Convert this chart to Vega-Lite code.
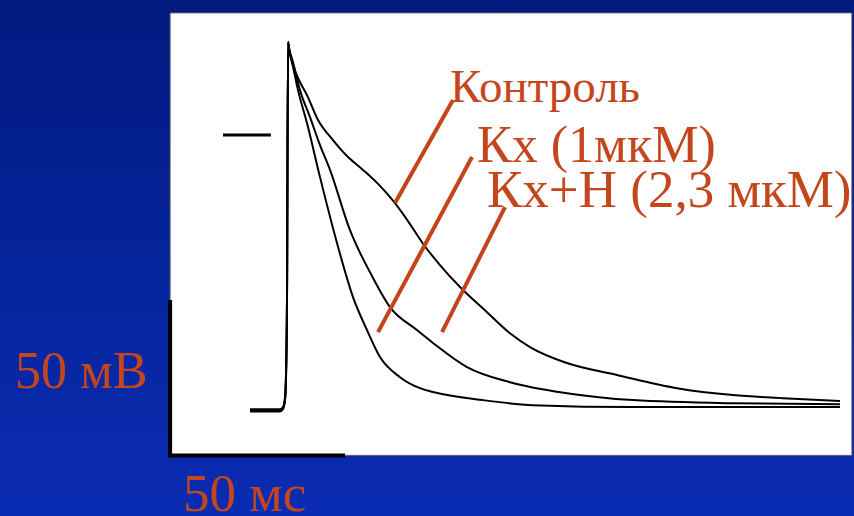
{
  "$schema": "https://vega.github.io/schema/vega-lite/v6.json",
  "width": 854,
  "height": 516,
  "autosize": {"type": "none"},
  "padding": 0,
  "background": "#0a2196",
  "config": {"view": {"stroke": null}, "axis": {"disable": true}},
  "datasets": {
    "one": [{"k": 1}],
    "traces": [
      {"trace": "A", "i": 1, "t": -10.57, "v": -88.0},
      {"trace": "A", "i": 2, "t": -2.0, "v": -88.0},
      {"trace": "A", "i": 3, "t": -1.14, "v": -87.3},
      {"trace": "A", "i": 4, "t": -0.57, "v": -84.4},
      {"trace": "A", "i": 5, "t": -0.29, "v": -78.0},
      {"trace": "A", "i": 6, "t": 0.0, "v": -52.5},
      {"trace": "A", "i": 7, "t": 0.29, "v": 29.6},
      {"trace": "A", "i": 8, "t": 0.57, "v": 27.1},
      {"trace": "A", "i": 9, "t": 1.43, "v": 23.2},
      {"trace": "A", "i": 10, "t": 3.14, "v": 14.3},
      {"trace": "A", "i": 11, "t": 5.71, "v": 3.8},
      {"trace": "A", "i": 12, "t": 9.43, "v": -13.4},
      {"trace": "A", "i": 13, "t": 14.29, "v": -34.4},
      {"trace": "A", "i": 14, "t": 18.86, "v": -51.6},
      {"trace": "A", "i": 15, "t": 22.86, "v": -62.1},
      {"trace": "A", "i": 16, "t": 26.57, "v": -70.7},
      {"trace": "A", "i": 17, "t": 32.29, "v": -77.1},
      {"trace": "A", "i": 18, "t": 38.0, "v": -80.6},
      {"trace": "A", "i": 19, "t": 41.71, "v": -81.8},
      {"trace": "A", "i": 20, "t": 56.0, "v": -84.4},
      {"trace": "A", "i": 21, "t": 70.29, "v": -86.0},
      {"trace": "A", "i": 22, "t": 98.86, "v": -86.6},
      {"trace": "A", "i": 23, "t": 158.0, "v": -86.6},

      {"trace": "B", "i": 1, "t": -10.57, "v": -87.6},
      {"trace": "B", "i": 2, "t": -2.0, "v": -87.6},
      {"trace": "B", "i": 3, "t": -1.14, "v": -86.9},
      {"trace": "B", "i": 4, "t": -0.57, "v": -84.0},
      {"trace": "B", "i": 5, "t": -0.29, "v": -77.0},
      {"trace": "B", "i": 6, "t": 0.0, "v": -52.0},
      {"trace": "B", "i": 7, "t": 0.29, "v": 29.6},
      {"trace": "B", "i": 8, "t": 0.57, "v": 27.7},
      {"trace": "B", "i": 9, "t": 1.71, "v": 23.2},
      {"trace": "B", "i": 10, "t": 3.71, "v": 14.3},
      {"trace": "B", "i": 11, "t": 6.57, "v": 5.7},
      {"trace": "B", "i": 12, "t": 9.43, "v": -3.2},
      {"trace": "B", "i": 13, "t": 12.29, "v": -11.1},
      {"trace": "B", "i": 14, "t": 18.0, "v": -30.3},
      {"trace": "B", "i": 15, "t": 24.29, "v": -44.9},
      {"trace": "B", "i": 16, "t": 29.43, "v": -54.8},
      {"trace": "B", "i": 17, "t": 37.14, "v": -62.1},
      {"trace": "B", "i": 18, "t": 41.71, "v": -66.2},
      {"trace": "B", "i": 19, "t": 51.43, "v": -73.9},
      {"trace": "B", "i": 20, "t": 63.71, "v": -78.7},
      {"trace": "B", "i": 21, "t": 80.0, "v": -82.2},
      {"trace": "B", "i": 22, "t": 98.86, "v": -84.4},
      {"trace": "B", "i": 23, "t": 127.43, "v": -85.4},
      {"trace": "B", "i": 24, "t": 158.0, "v": -85.7},

      {"trace": "C", "i": 1, "t": -10.57, "v": -87.3},
      {"trace": "C", "i": 2, "t": -2.0, "v": -87.3},
      {"trace": "C", "i": 3, "t": -1.14, "v": -86.6},
      {"trace": "C", "i": 4, "t": -0.57, "v": -83.5},
      {"trace": "C", "i": 5, "t": -0.29, "v": -76.0},
      {"trace": "C", "i": 6, "t": 0.0, "v": -51.5},
      {"trace": "C", "i": 7, "t": 0.29, "v": 29.6},
      {"trace": "C", "i": 8, "t": 0.57, "v": 27.7},
      {"trace": "C", "i": 9, "t": 1.71, "v": 22.3},
      {"trace": "C", "i": 10, "t": 3.71, "v": 16.9},
      {"trace": "C", "i": 11, "t": 5.71, "v": 12.7},
      {"trace": "C", "i": 12, "t": 8.86, "v": 4.8},
      {"trace": "C", "i": 13, "t": 13.14, "v": -1.6},
      {"trace": "C", "i": 14, "t": 17.43, "v": -7.0},
      {"trace": "C", "i": 15, "t": 21.71, "v": -11.1},
      {"trace": "C", "i": 16, "t": 26.57, "v": -16.2},
      {"trace": "C", "i": 17, "t": 30.29, "v": -20.9},
      {"trace": "C", "i": 18, "t": 34.57, "v": -27.4},
      {"trace": "C", "i": 19, "t": 38.86, "v": -34.6},
      {"trace": "C", "i": 20, "t": 43.71, "v": -41.4},
      {"trace": "C", "i": 21, "t": 49.43, "v": -48.4},
      {"trace": "C", "i": 22, "t": 57.14, "v": -56.4},
      {"trace": "C", "i": 23, "t": 63.71, "v": -63.1},
      {"trace": "C", "i": 24, "t": 69.43, "v": -67.5},
      {"trace": "C", "i": 25, "t": 80.0, "v": -72.6},
      {"trace": "C", "i": 26, "t": 94.29, "v": -76.4},
      {"trace": "C", "i": 27, "t": 111.43, "v": -80.6},
      {"trace": "C", "i": 28, "t": 127.43, "v": -82.8},
      {"trace": "C", "i": 29, "t": 141.71, "v": -83.8},
      {"trace": "C", "i": 30, "t": 158.0, "v": -84.7}
    ],
    "pointers": [
      {"name": "Контроль", "t": 47.43, "v": 11.15, "t2": 30.86, "v2": -21.66},
      {"name": "Кх", "t": 52.86, "v": -7.01, "t2": 26.0, "v2": -62.74},
      {"name": "Кх+Н", "t": 62.29, "v": -22.93, "t2": 44.29, "v2": -62.74}
    ],
    "bars": [
      {"name": "50 мВ", "t": -33.4, "v": -52.5, "t2": -33.4, "v2": -102.5, "w": 4},
      {"name": "50 мс", "t": -33.9, "v": -102.0, "t2": 16.6, "v2": -102.0, "w": 4},
      {"name": "0 мВ", "t": -18.3, "v": 0, "t2": -4.6, "v2": 0, "w": 3}
    ],
    "labels": [
      {"text": "Контроль", "t": 46.57, "v": 10.5, "size": 47},
      {"text": "Кх (1мкМ)", "t": 54.29, "v": -8.6, "size": 52},
      {"text": "Кх+Н (2,3 мкМ)", "t": 57.14, "v": -22.9, "size": 53},
      {"text": "50 мВ", "t": -77.7, "v": -80.6, "size": 52},
      {"text": "50 мс", "t": -29.7, "v": -119.8, "size": 53}
    ]
  },
  "layer": [
    {
      "data": {"name": "one"},
      "mark": {"type": "rect", "color": {"gradient": "linear", "x1": 0, "y1": 0, "x2": 0, "y2": 1, "stops": [{"offset": 0, "color": "#011a80"}, {"offset": 1, "color": "#0a2cb3"}]}},
      "encoding": {
        "x": {"datum": -82, "type": "quantitative", "scale": {"domain": [-82, 162], "nice": false, "zero": false}},
        "x2": {"datum": 162},
        "y": {"datum": -121.3, "type": "quantitative", "scale": {"domain": [-121.3, 43.0], "nice": false, "zero": false}},
        "y2": {"datum": 43.0}
      }
    },
    {
      "data": {"name": "one"},
      "mark": {"type": "rect", "fill": "#ffffff", "stroke": "#5a5a6a", "strokeWidth": 1},
      "encoding": {
        "x": {"datum": -33.4, "type": "quantitative"},
        "x2": {"datum": 161.4},
        "y": {"datum": 38.9, "type": "quantitative"},
        "y2": {"datum": -102.0}
      }
    },
    {
      "data": {"name": "traces"},
      "mark": {"type": "line", "color": "#000000", "strokeWidth": 2, "interpolate": "monotone"},
      "encoding": {
        "x": {"field": "t", "type": "quantitative"},
        "y": {"field": "v", "type": "quantitative"},
        "detail": {"field": "trace"},
        "order": {"field": "i"}
      }
    },
    {
      "data": {"name": "bars"},
      "mark": {"type": "rule", "color": "#000000"},
      "encoding": {
        "x": {"field": "t", "type": "quantitative"},
        "x2": {"field": "t2"},
        "y": {"field": "v", "type": "quantitative"},
        "y2": {"field": "v2"},
        "strokeWidth": {"field": "w", "type": "quantitative", "scale": null}
      }
    },
    {
      "data": {"name": "pointers"},
      "mark": {"type": "rule", "color": "#c4441a", "strokeWidth": 4},
      "encoding": {
        "x": {"field": "t", "type": "quantitative"},
        "x2": {"field": "t2"},
        "y": {"field": "v", "type": "quantitative"},
        "y2": {"field": "v2"}
      }
    },
    {
      "data": {"name": "labels"},
      "mark": {"type": "text", "align": "left", "baseline": "alphabetic", "font": "Liberation Serif", "color": "#c4461c"},
      "encoding": {
        "x": {"field": "t", "type": "quantitative"},
        "y": {"field": "v", "type": "quantitative"},
        "text": {"field": "text"},
        "size": {"field": "size", "type": "quantitative", "scale": null}
      }
    }
  ]
}
